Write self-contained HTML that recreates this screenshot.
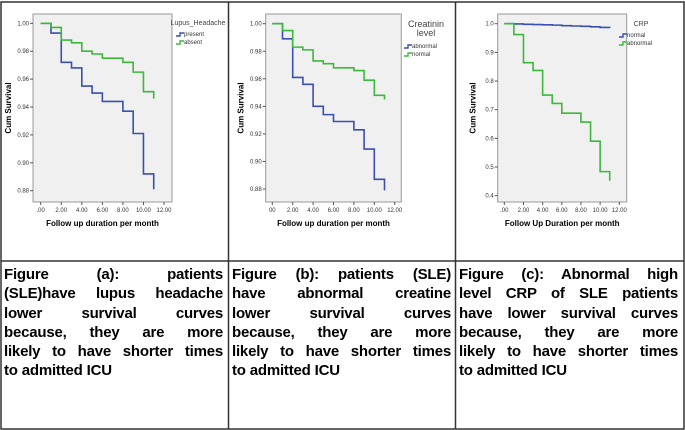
<!DOCTYPE html>
<html><head><meta charset="utf-8"><style>
body{margin:0;width:685px;height:430px;background:#fff;overflow:hidden;font-family:"Liberation Sans",sans-serif}
#wrap{position:absolute;left:0;top:0}
.cap{position:absolute;top:265px;width:219px;font:bold 15px/19.3px "Liberation Sans",sans-serif;color:#000;letter-spacing:-0.2px}
.cap div{text-align:justify;text-align-last:justify;white-space:nowrap;word-spacing:0}
.cap div.last{text-align-last:left}
</style></head><body>
<svg id="wrap" width="685" height="430">
<g id="grid" stroke="#333" stroke-width="1.5" fill="none">
<rect x="1" y="2" width="683" height="427"/>
<line x1="228.5" y1="2" x2="228.5" y2="429"/>
<line x1="455.5" y1="2" x2="455.5" y2="429"/>
<line x1="1" y1="261" x2="684" y2="261"/>
</g>
<g id="charts"></g>
</svg>
<div class="cap" style="left:4px">
<div style="white-space:normal">Figure (a): patients</div><div style="white-space:normal">(SLE)have lupus headache</div><div style="white-space:normal">lower survival curves</div><div style="white-space:normal">because, they are more</div><div style="white-space:normal">likely to have shorter times</div><div class="last">to admitted ICU</div></div>
<div class="cap" style="left:232px">
<div style="white-space:normal">Figure (b): patients (SLE)</div><div style="white-space:normal">have abnormal creatine</div><div style="white-space:normal">lower survival curves</div><div style="white-space:normal">because, they are more</div><div style="white-space:normal">likely to have shorter times</div><div class="last">to admitted ICU</div></div>
<div class="cap" style="left:459px">
<div style="white-space:normal">Figure (c): Abnormal high</div><div style="white-space:normal">level CRP of SLE patients</div><div style="white-space:normal">have lower survival curves</div><div style="white-space:normal">because, they are more</div><div style="white-space:normal">likely to have shorter times</div><div class="last">to admitted ICU</div></div>
<script>
const times=[0,1,2,3,4,5,6,7,8,9,10];
const aPresent=[1.0,0.993,0.972,0.968,0.955,0.950,0.944,0.944,0.937,0.921,0.892,0.881];
const aAbsent=[1.0,0.997,0.988,0.986,0.980,0.978,0.975,0.975,0.972,0.965,0.951,0.946];
const bAbnormal=[1.0,0.989,0.961,0.956,0.940,0.934,0.929,0.929,0.923,0.909,0.887,0.879];
const bNormal=[1.0,0.995,0.983,0.981,0.973,0.971,0.968,0.968,0.966,0.959,0.948,0.945];
const cNormal=[1.0,0.999,0.998,0.997,0.996,0.995,0.993,0.992,0.991,0.989,0.987,0.985];
const cAbnormal=[1.0,0.962,0.864,0.837,0.751,0.722,0.688,0.688,0.657,0.590,0.484,0.452];
const xTicksA=[".00","2.00","4.00","6.00","8.00","10.00","12.00"];
const yTicksAB=["0.88","0.90","0.92","0.94","0.96","0.98","1.00"];
const yTicksC=["0.4","0.5","0.6","0.7","0.8","0.9","1.0"];
const NS="http://www.w3.org/2000/svg";
const root=document.getElementById('charts');
function mk(tag,attrs,parent,txt){const e=document.createElementNS(NS,tag);for(const k in attrs)e.setAttribute(k,attrs[k]);if(txt!==undefined)e.textContent=txt;(parent||root).appendChild(e);return e;}
function panel(cfg){
  const g=mk('g',{});
  
  
  const bx=mk('rect',{x:cfg.bx0,y:14,width:cfg.bx1-cfg.bx0,height:188,fill:'#f0f0f0',stroke:'#999','stroke-width':1},g);
  
  
  const X=t=>cfg.x0+(cfg.x12-cfg.x0)*t/12;
  const Y=v=>cfg.yTop+(cfg.yBot-cfg.yTop)*(cfg.vmax-v)/(cfg.vmax-cfg.vmin);
  cfg.yt.forEach((lab,i)=>{const v=cfg.vmin+(cfg.vmax-cfg.vmin)*i/(cfg.yt.length-1);const y=Y(v);
    mk('line',{x1:cfg.bx0-3,x2:cfg.bx0,y1:y,y2:y,stroke:'#555'},g);
    const t=mk('text',{x:cfg.bx0-4,y:y+2,'font-size':6,'text-anchor':'end',fill:'#333'},g,lab);
    });
  cfg.xt.forEach((lab,i)=>{const x=X(i*2);
    mk('line',{x1:x,x2:x,y1:202,y2:205,stroke:'#555'},g);
    const t=mk('text',{x:x,y:212,'font-size':6,'text-anchor':'middle',fill:'#333'},g,lab);
    });
  cfg.series.forEach(s=>{
    let d='M'+X(times[0])+','+Y(s.v[0]);
    for(let i=1;i<times.length;i++){d+=' H'+X(times[i])+' V'+Y(s.v[i]);}
    d+=' H'+X(11)+' V'+Y(s.v[s.v.length-1]);
    const p=mk('path',{d:d,fill:'none',stroke:s.c,'stroke-width':1.6},g);
    
  });
  const yl=mk('text',{x:0,y:0,transform:`translate(${cfg.bx0-22},108) rotate(-90)`,'font-size':8,'font-weight':'bold','text-anchor':'middle'},g,'Cum Survival');
  
  const xl=mk('text',{x:(cfg.bx0+cfg.bx1)/2,y:226,'font-size':8,'font-weight':'bold','text-anchor':'middle'},g,cfg.xtitle);
  
  cfg.legTitle.forEach((l,i)=>{const t=mk('text',{x:cfg.lx,y:cfg.ly+i*9,'font-size':cfg.ltSize,fill:'#444','text-anchor':'middle'},g,l);
    });
  cfg.series.forEach((s,i)=>{const y=cfg.ly+cfg.legOff+i*8;const x=cfg.lx-22;
    mk('path',{d:`M${x},${y+1} H${x+4} V${y-2} H${x+8}`,fill:'none',stroke:s.c,'stroke-width':1.4},g);
    const t=mk('text',{x:x+8,y:y+1,'font-size':6,fill:'#333'},g,s.label);
    });
}
panel({name:'chart-a',bx0:33,bx1:172,x0:40.7,x12:164,yTop:23.3,yBot:190.7,vmin:0.88,vmax:1.0,yt:yTicksAB,xt:xTicksA,
  xtitle:'Follow up duration per month',legTitle:['Lupus_Headache'],lx:198,ly:25,ltSize:7,legOff:10,
  series:[{v:aPresent,c:'#3a4fb0',n:'line-present',label:'present'},{v:aAbsent,c:'#3cb83c',n:'line-absent',label:'absent'}]});
panel({name:'chart-b',bx0:265.7,bx1:401.3,x0:272.3,x12:394.7,yTop:23.7,yBot:189,vmin:0.88,vmax:1.0,yt:yTicksAB,
  xt:["00","2.00","4.00","6.00","8.00","10.00","12.00"],
  xtitle:'Follow up duration per month',legTitle:['Creatinin','level'],lx:426,ly:27,ltSize:9,legOff:20,
  series:[{v:bAbnormal,c:'#3a4fb0',n:'line-abnormal',label:'abnormal'},{v:bNormal,c:'#3cb83c',n:'line-normal',label:'normal'}]});
panel({name:'chart-c',bx0:497.7,bx1:626.7,x0:504.3,x12:619.3,yTop:23.7,yBot:195.7,vmin:0.4,vmax:1.0,yt:yTicksC,
  xt:[".00","2.00","4.00","6.00","8.00","10.00","12.00"],
  xtitle:'Follow Up Duration per month',legTitle:['CRP'],lx:641,ly:26,ltSize:7,legOff:10,
  series:[{v:cNormal,c:'#3a4fb0',n:'line-normal',label:'normal'},{v:cAbnormal,c:'#3cb83c',n:'line-abnormal',label:'abnormal'}]});
</script>
</body></html>
